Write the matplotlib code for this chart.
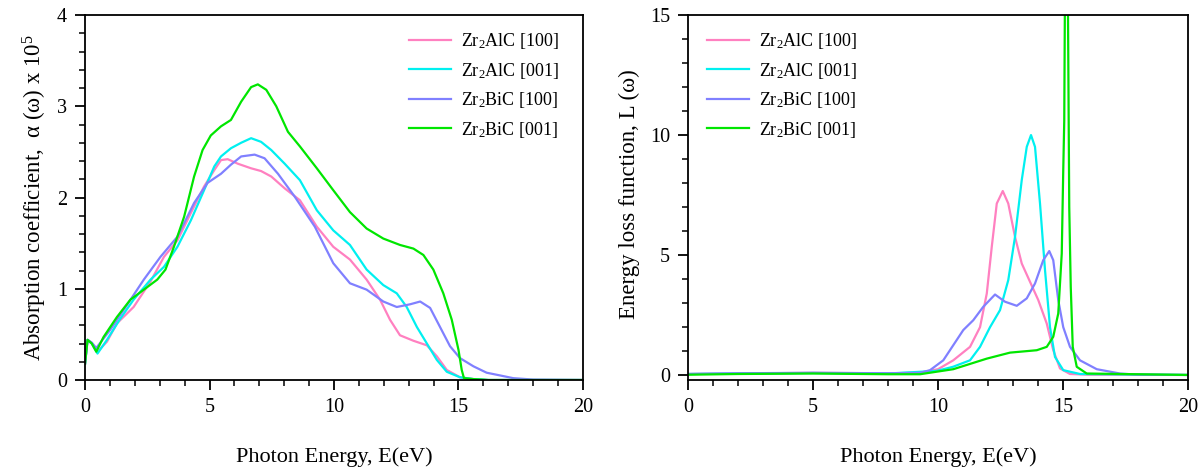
import matplotlib
matplotlib.use("Agg")
import matplotlib.pyplot as plt
from matplotlib.ticker import MultipleLocator

plt.rcParams["font.family"] = ["Liberation Serif", "DejaVu Serif"]
plt.rcParams["mathtext.fontset"] = "custom"
plt.rcParams["mathtext.rm"] = "Liberation Serif"
plt.rcParams["mathtext.it"] = "Liberation Serif:italic"

# ---- absorption coefficient (x 1e5 cm^-1) vs photon energy (eV) ----
abs_al_100_e = [0, 0.1, 0.27, 0.5, 0.88, 1.28, 1.95, 2.63, 3.17, 3.71, 4.25,
                4.78, 5.19, 5.46, 5.73, 6.14, 6.67, 7.07, 7.48, 8.02, 8.63,
                9.31, 9.97, 10.64, 11.31, 11.85, 12.25, 12.65, 13.19, 13.73,
                14.13, 14.53, 15.06, 15.6, 16.2, 20]
abs_al_100 = [0.18, 0.44, 0.40, 0.31, 0.42, 0.62, 0.80, 1.08, 1.35, 1.53, 1.83,
              2.12, 2.30, 2.41, 2.42, 2.37, 2.32, 2.29, 2.23, 2.10, 1.97,
              1.68, 1.46, 1.32, 1.10, 0.88, 0.66, 0.49, 0.43, 0.38,
              0.26, 0.11, 0.03, 0.01, 0.0, 0.0]

abs_al_001_e = [0, 0.1, 0.27, 0.5, 0.88, 1.41, 1.95, 2.63, 3.17, 3.71, 4.25,
                4.78, 5.19, 5.46, 5.86, 6.27, 6.67, 7.07, 7.48, 8.02, 8.63,
                9.31, 9.97, 10.64, 11.31, 11.98, 12.52, 12.92, 13.33, 13.73,
                14.13, 14.53, 15.06, 15.6, 16.2, 20]
abs_al_001 = [0.18, 0.44, 0.40, 0.29, 0.44, 0.67, 0.88, 1.10, 1.24, 1.46, 1.75,
              2.08, 2.34, 2.45, 2.54, 2.60, 2.65, 2.61, 2.52, 2.37, 2.19,
              1.86, 1.64, 1.48, 1.21, 1.04, 0.95, 0.80, 0.58, 0.40,
              0.22, 0.09, 0.03, 0.01, 0.0, 0.0]

abs_bi_100_e = [0, 0.1, 0.27, 0.45, 1.01, 1.68, 2.36, 3.03, 3.71, 4.38, 4.92,
                5.46, 5.86, 6.27, 6.81, 7.21, 7.75, 8.42, 9.23, 9.97, 10.64,
                11.31, 11.98, 12.52, 13.06, 13.46, 13.86, 14.26, 14.66, 15.06,
                15.6, 16.13, 16.67, 17.2, 18.0, 20]
abs_bi_100 = [0.18, 0.44, 0.41, 0.35, 0.55, 0.82, 1.10, 1.35, 1.57, 1.94, 2.16,
              2.26, 2.36, 2.45, 2.47, 2.43, 2.26, 2.01, 1.68, 1.28, 1.06,
              0.99, 0.86, 0.80, 0.83, 0.86, 0.79, 0.58, 0.37, 0.24,
              0.15, 0.08, 0.05, 0.02, 0.005, 0.0]

abs_bi_001_e = [0, 0.1, 0.27, 0.45, 0.74, 1.28, 1.82, 2.36, 2.9, 3.23, 3.57,
                3.98, 4.38, 4.72, 5.05, 5.46, 5.86, 6.27, 6.67, 6.94, 7.28,
                7.68, 8.15, 8.63, 9.31, 9.97, 10.64, 11.31, 11.98, 12.65,
                13.19, 13.59, 13.99, 14.39, 14.73, 15.0, 15.13, 15.22, 15.6,
                16.2, 20]
abs_bi_001 = [0.18, 0.44, 0.40, 0.31, 0.47, 0.69, 0.88, 0.99, 1.10, 1.21, 1.46,
              1.79, 2.23, 2.52, 2.68, 2.78, 2.85, 3.05, 3.21, 3.24, 3.18,
              3.00, 2.72, 2.56, 2.32, 2.08, 1.84, 1.66, 1.55, 1.48,
              1.44, 1.37, 1.21, 0.95, 0.66, 0.33, 0.11, 0.02, 0.01,
              0.0, 0.0]

# ---- energy loss function L(w) vs photon energy (eV) ----
loss_al_100_e = [0, 2, 5, 8, 9.28, 10.0, 10.61, 11.28, 11.68, 11.95, 12.15,
                 12.35, 12.59, 12.81, 13.08, 13.35, 13.68, 14.01, 14.35, 14.61,
                 14.88, 15.28, 16.0, 20]
loss_al_100 = [0.05, 0.07, 0.1, 0.08, 0.1, 0.25, 0.62, 1.18, 2.0, 3.4, 5.35,
               7.15, 7.67, 7.15, 5.76, 4.65, 3.89, 3.13, 2.15, 1.04,
               0.28, 0.05, 0.02, 0.01]

loss_al_001_e = [0, 2, 5, 8, 9.95, 10.6, 11.28, 11.68, 12.08, 12.48, 12.81,
                 13.08, 13.35, 13.55, 13.72, 13.88, 14.08, 14.28, 14.48, 14.68,
                 15.01, 15.68, 20]
loss_al_001 = [0.05, 0.07, 0.09, 0.07, 0.18, 0.35, 0.62, 1.18, 2.0, 2.71, 3.96,
               5.76, 8.13, 9.51, 10.0, 9.51, 7.15, 4.38, 2.0, 0.76,
               0.21, 0.05, 0.01]

loss_bi_100_e = [0, 2, 5, 8, 9.28, 9.68, 10.21, 10.61, 11.01, 11.41, 11.81,
                 12.28, 12.68, 13.15, 13.55, 13.88, 14.21, 14.45, 14.61, 14.81,
                 15.01, 15.28, 15.68, 16.35, 17.28, 18.0, 20]
loss_bi_100 = [0.05, 0.08, 0.1, 0.08, 0.1, 0.21, 0.62, 1.25, 1.88, 2.29, 2.85,
               3.36, 3.06, 2.89, 3.2, 3.82, 4.79, 5.17, 4.79, 3.13,
               2.0, 1.18, 0.62, 0.25, 0.07, 0.02, 0.01]

loss_bi_001_e = [0, 2, 5, 8, 9.28, 10.61, 11.95, 12.88, 13.95, 14.35, 14.61,
                 14.81, 14.95, 15.01, 15.05, 15.1, 15.15, 15.2, 15.25, 15.31,
                 15.39, 15.55, 15.95, 20]
loss_bi_001 = [0.02, 0.05, 0.07, 0.04, 0.04, 0.25, 0.69, 0.94, 1.04, 1.18, 1.6,
               2.57, 5.07, 8.54, 10.6, 20.0, 25.0, 15.0, 7.0, 3.68,
               1.18, 0.35, 0.07, 0.01]

labels = ["Zr$_2$AlC [100]", "Zr$_2$AlC [001]", "Zr$_2$BiC [100]", "Zr$_2$BiC [001]"]
colors = ["#ff80c0", "#00f0f0", "#8080ff", "#00e600"]

abs_sets = [(abs_al_100_e, abs_al_100), (abs_al_001_e, abs_al_001),
            (abs_bi_100_e, abs_bi_100), (abs_bi_001_e, abs_bi_001)]
loss_sets = [(loss_al_100_e, loss_al_100), (loss_al_001_e, loss_al_001),
             (loss_bi_100_e, loss_bi_100), (loss_bi_001_e, loss_bi_001)]

fig = plt.figure(figsize=(12.03, 4.75), dpi=100)
ax1 = fig.add_axes([0.0707, 0.2, 0.4139, 0.7684])
ax2 = fig.add_axes([0.572, 0.2, 0.4155, 0.7684])

for (xs, ys), lab, c in zip(abs_sets, labels, colors):
    ax1.plot(xs, ys, color=c, lw=1.6, label=lab)
for (xs, ys), lab, c in zip(loss_sets, labels, colors):
    ax2.plot(xs, ys, color=c, lw=1.6, label=lab)

ax1.set_xlim(0, 20)
ax1.set_ylim(0, 4)
ax1.yaxis.set_major_locator(MultipleLocator(1))
ax1.yaxis.set_minor_locator(MultipleLocator(0.2))
ax1.set_ylabel("Absorption coefficient,  α (ω) x 10$^5$", fontsize=16.5, labelpad=6)

ax2.set_xlim(0, 20)
ax2.set_ylim(-0.2, 15)
ax2.yaxis.set_major_locator(MultipleLocator(5))
ax2.yaxis.set_minor_locator(MultipleLocator(1))
ax2.set_ylabel("Energy loss function, L (ω)", fontsize=16.5)
ax2.yaxis.set_label_coords(-0.096, 0.51)

for ax in (ax1, ax2):
    ax.xaxis.set_major_locator(MultipleLocator(5))
    ax.xaxis.set_minor_locator(MultipleLocator(1))
    ax.set_xlabel("Photon Energy, E(eV)", fontsize=16, labelpad=22)
    ax.tick_params(which="major", direction="out", length=7, width=1.3,
                   labelsize=14.5, top=False, right=False, pad=6)
    ax.tick_params(which="minor", direction="out", length=4, width=1.1,
                   top=False, right=False)
    for sp in ax.spines.values():
        sp.set_linewidth(1.3)

leg_kw = dict(frameon=False, fontsize=13, handlelength=2.33, handletextpad=0.55,
              labelspacing=0.53, borderpad=0, borderaxespad=0, loc="upper left")
ax1.legend(bbox_to_anchor=(0.6506, 0.956), **leg_kw)
ax2.legend(bbox_to_anchor=(0.038, 0.956), **leg_kw)

fig.savefig("out.png", dpi=100)
